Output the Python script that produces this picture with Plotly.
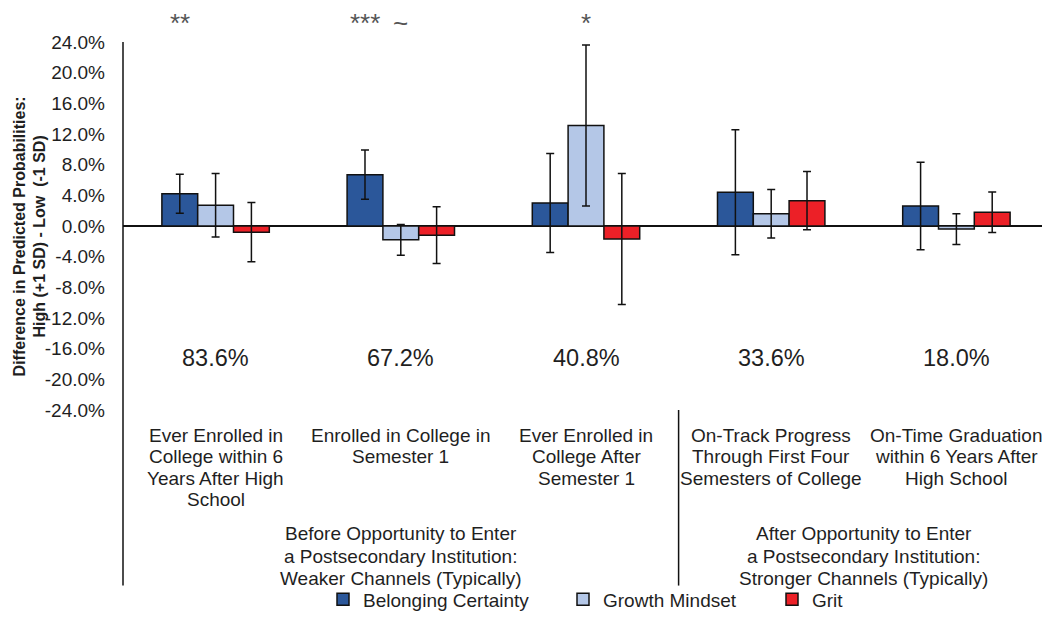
import plotly.graph_objects as go

categories = [
    "Ever Enrolled in<br>College within 6<br>Years After High<br>School",
    "Enrolled in College in<br>Semester 1",
    "Ever Enrolled in<br>College After<br>Semester 1",
    "On-Track Progress<br>Through First Four<br>Semesters of College",
    "On-Time Graduation<br>within 6 Years After<br>High School",
]
base_rates = ["83.6%", "67.2%", "40.8%", "33.6%", "18.0%"]

belonging = [4.2, 6.7, 3.0, 4.4, 2.6]
belonging_err = [2.55, 3.2, 6.45, 8.15, 5.7]
growth = [2.7, -1.8, 13.1, 1.6, -0.4]
growth_err = [4.15, 2.0, 10.5, 3.15, 2.0]
grit = [-0.8, -1.2, -1.7, 3.3, 1.8]
grit_err = [3.85, 3.7, 8.55, 3.8, 2.65]

series_names = ["Belonging Certainty", "Growth Mindset", "Grit"]
series_colors = ["#2B579A", "#B4C7E7", "#EC2027"]

# significance markers: (category index, series index, label)
sig_cat = [0, 1, 1, 2]
sig_series = [0, 0, 1, 1]
sig_text = ["**", "***", "~", "*"]

group_labels = [
    "Before Opportunity to Enter<br>a Postsecondary Institution:<br>Weaker Channels (Typically)",
    "After Opportunity to Enter<br>a Postsecondary Institution:<br>Stronger Channels (Typically)",
]
group_centers = [1.0, 3.5]

yticks = list(range(-24, 25, 4))

FONT = "Liberation Sans, Arial, sans-serif"
TXT = "#1f1f1f"

# The page body has an 8px margin; geometry below is in figure pixels.
OFF = 8
W, H = 1050 - OFF, 620 - OFF
ML, MR, MT = 123 - OFF, 1, 42 - OFF
MB = H - (413 - OFF)
PW = W - ML - MR
PH = H - MT - MB


def py2paper(screen_py):
    return (H - MB - (screen_py - OFF)) / PH


def px2paper(screen_px):
    return (screen_px - OFF - ML) / PW


x = list(range(len(categories)))
BARGAP = 0.42
bw = (1 - BARGAP) / 3

legend_ids = ["legend", "legend2", "legend3"]
legend_left_px = [323, 563, 772]

fig = go.Figure()
for name, vals, errs, col, lid in zip(series_names, [belonging, growth, grit],
                                      [belonging_err, growth_err, grit_err], series_colors,
                                      legend_ids):
    fig.add_trace(go.Bar(
        x=x, y=vals, name=name, legend=lid,
        marker=dict(color=col, line=dict(color="#111111", width=1.5)),
        error_y=dict(type="data", array=errs, visible=True, color="#111111",
                     thickness=1.5, width=4),
    ))

annotations = []


def add_lines(xc, text, first_py, spacing, size):
    for k, line in enumerate(text.split("<br>")):
        annotations.append(dict(x=xc, y=py2paper(first_py + k * spacing), xref="x", yref="paper",
                                text=line, showarrow=False, yanchor="middle", xanchor="center",
                                font=dict(size=size, color=TXT, family=FONT)))


for i, lab in enumerate(categories):
    add_lines(i, lab, 438.5, 21.7, 19)
    annotations.append(dict(x=i, y=-17.25, xref="x", yref="y", text=base_rates[i],
                            showarrow=False, yanchor="middle", xanchor="center",
                            font=dict(size=23.5, color=TXT, family=FONT)))
for c, s, t in zip(sig_cat, sig_series, sig_text):
    annotations.append(dict(x=c + (s - 1) * bw, y=py2paper(OFF - 2), xref="x", yref="paper", text=t,
                            showarrow=False, yanchor="top", xanchor="center",
                            font=dict(size=26, color="#555555", family=FONT)))
for gc, gl in zip(group_centers, group_labels):
    add_lines(gc, gl, 538, 22.6, 19)

annotations.append(dict(x=px2paper(30), y=py2paper(238), xref="paper", yref="paper",
                        text="<b>Difference in Predicted Probabilities:<br>High (+1 SD) - Low  (-1 SD)</b>",
                        showarrow=False, textangle=-90, xanchor="center", yanchor="middle",
                        font=dict(size=16, color=TXT, family=FONT)))

shapes = [
    dict(type="line", xref="paper", yref="paper", x0=0, x1=0, y0=py2paper(590), y1=1,
         line=dict(color="#111111", width=1.5)),
    dict(type="line", xref="x", yref="paper", x0=2.5, x1=2.5, y0=py2paper(590), y1=0,
         line=dict(color="#111111", width=1.5)),
    dict(type="line", xref="x", yref="paper", x0=4.5, x1=4.5, y0=py2paper(590), y1=0,
         line=dict(color="#111111", width=1.5)),
]

legend_layout = {}
for lid, lx in zip(legend_ids, legend_left_px):
    legend_layout[lid] = dict(orientation="h", x=px2paper(lx), xanchor="left",
                              y=py2paper(604), yanchor="middle",
                              font=dict(size=19, color=TXT, family=FONT), itemwidth=30,
                              bgcolor="rgba(0,0,0,0)")

fig.update_layout(
    width=W, height=H,
    margin=dict(l=ML, r=MR, t=MT, b=MB),
    paper_bgcolor="white", plot_bgcolor="white",
    barmode="group", bargap=BARGAP, bargroupgap=0,
    font=dict(family=FONT, color=TXT),
    xaxis=dict(range=[-0.5, 4.5], showticklabels=False, showgrid=False,
               zeroline=False, showline=False, ticks="", automargin=False),
    yaxis=dict(range=[-24, 24], tickvals=yticks,
               ticktext=[f"{v:.1f}%" for v in yticks],
               showgrid=False, zeroline=True, zerolinecolor="#111111", zerolinewidth=1.5,
               showline=False, ticks="", ticklabelstandoff=17, automargin=False,
               tickfont=dict(size=19, color=TXT, family=FONT)),
    annotations=annotations,
    shapes=shapes,
    showlegend=True,
    **legend_layout,
)

fig.write_html("out.html")
